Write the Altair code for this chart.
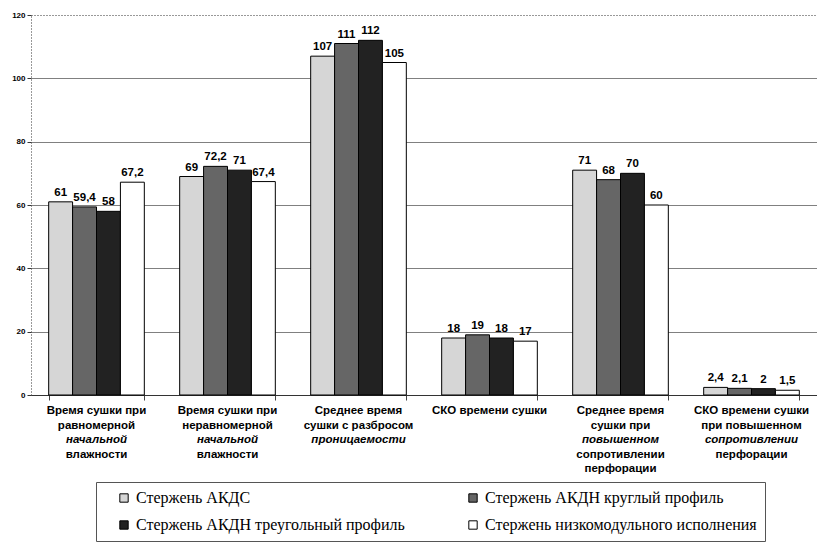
import altair as alt
import pandas as pd

categories = [
    "Время сушки при равномерной начальной влажности",
    "Время сушки при неравномерной начальной влажности",
    "Среднее время сушки с разбросом проницаемости",
    "СКО времени сушки",
    "Среднее время сушки при повышенном сопротивлении перфорации",
    "СКО времени сушки при повышенном сопротивлении перфорации",
]
series = [
    "Стержень АКДС",
    "Стержень АКДН круглый профиль",
    "Стержень АКДН треугольный профиль",
    "Стержень низкомодульного исполнения",
]
akds = [61, 69, 107, 18, 71, 2.4]
akdn_round = [59.4, 72.2, 111, 19, 68, 2.1]
akdn_tri = [58, 71, 112, 18, 70, 2]
low_mod = [67.2, 67.4, 105, 17, 60, 1.5]

# category label lines: (text, italic)
label_lines = [
    [("Время сушки при", False), ("равномерной", False), ("начальной", True), ("влажности", False)],
    [("Время сушки при", False), ("неравномерной", False), ("начальной", True), ("влажности", False)],
    [("Среднее время", False), ("сушки с разбросом", False), ("проницаемости", True)],
    [("СКО времени сушки", False)],
    [("Среднее время", False), ("сушки при", False), ("повышенном", True), ("сопротивлении", False), ("перфорации", False)],
    [("СКО времени сушки", False), ("при повышенном", False), ("сопротивлении", True), ("перфорации", False)],
]

fills = ["#d6d6d6", "#666666", "#222222", "#ffffff"]

rows = []
for s, vals in zip(series, [akds, akdn_round, akdn_tri, low_mod]):
    for c, v in zip(categories, vals):
        rows.append({"category": c, "series": s, "value": v})
df = pd.DataFrame(rows)

lab_rows = []
for c, lines in zip(categories, label_lines):
    for i, (t, it) in enumerate(lines):
        lab_rows.append({"category": c, "line": i, "text": t, "italic": it})
labdf = pd.DataFrame(lab_rows)

x_enc = alt.X(
    "category:N",
    sort=categories,
    scale=alt.Scale(paddingInner=0.27, paddingOuter=0.135),
    axis=alt.Axis(
        title=None, labels=False, ticks=True, tickBand="extent", tickSize=5,
        tickColor="#444", domainColor="#333", domainWidth=1, grid=False,
    ),
)
xoff = alt.XOffset("series:N", sort=series, scale=alt.Scale(paddingInner=0, paddingOuter=0))
y_scale = alt.Scale(domain=[0, 120], nice=False)

legend_order = [series[0], series[2], series[1], series[3]]

bars = alt.Chart(df).mark_bar(stroke="black", strokeWidth=1).encode(
    x=x_enc,
    xOffset=xoff,
    y=alt.Y(
        "value:Q",
        scale=y_scale,
        axis=alt.Axis(
            title=None, values=[0, 20, 40, 60, 80, 100, 120], tickSize=4, tickColor="#333",
            labelFont="Liberation Sans", labelFontWeight="bold", labelFontSize=8,
            labelColor="black", labelPadding=2,
            domainColor="#333", domainDash=[1, 2],
            gridColor={"condition": {"test": "datum.value === 120", "value": "#333"}, "value": "#808080"},
            gridDash={"condition": {"test": "datum.value === 120", "value": [1, 2]}, "value": []},
        ),
    ),
    fill=alt.Fill(
        "series:N",
        sort=series,
        scale=alt.Scale(domain=series, range=fills),
        legend=alt.Legend(
            title=" ", titleOrient="left", titlePadding=12, values=legend_order,
            orient="none", legendX=65, legendY=467, columns=2, columnPadding=60,
            rowPadding=11, symbolType="square", symbolSize=70, symbolStrokeColor="black",
            symbolStrokeWidth=1, labelFont="Liberation Serif", labelFontSize=16,
            labelColor="black", labelLimit=400, labelOffset=4,
            strokeColor="#555", padding=8,
        ),
    ),
)

values = alt.Chart(df).transform_calculate(
    lbl="replace(toString(datum.value), '.', ',')"
).mark_text(
    baseline="bottom", dy=-4, font="Liberation Sans", fontWeight="bold", fontSize=11.5, color="black"
).encode(
    x=alt.X("category:N", sort=categories),
    xOffset=xoff,
    y=alt.Y("value:Q", scale=y_scale),
    text="lbl:N",
)

label_y = alt.Y("line:Q", scale=alt.Scale(domain=[0, 4], range=[396, 454], zero=False, nice=False), axis=None)
labels_normal = alt.Chart(labdf).transform_filter("!datum.italic").mark_text(
    baseline="middle", font="Liberation Sans", fontWeight="bold", fontSize=11.5, color="black"
).encode(x=alt.X("category:N", sort=categories), y=label_y, text="text:N")
labels_italic = alt.Chart(labdf).transform_filter("datum.italic").mark_text(
    baseline="middle", font="Liberation Sans", fontWeight="bold", fontStyle="italic", fontSize=11.5, color="black"
).encode(x=alt.X("category:N", sort=categories), y=label_y, text="text:N")

chart = alt.layer(
    alt.layer(bars, values),
    alt.layer(labels_normal, labels_italic),
).resolve_scale(y="independent").properties(
    width=786, height=380,
    autosize=alt.AutoSizeParams(type="none"),
    padding={"left": 31, "top": 15, "right": 0, "bottom": 147},
    background="white",
).configure_view(stroke=None)

chart.save("out.html", embed_options={"renderer": "svg", "actions": False})
